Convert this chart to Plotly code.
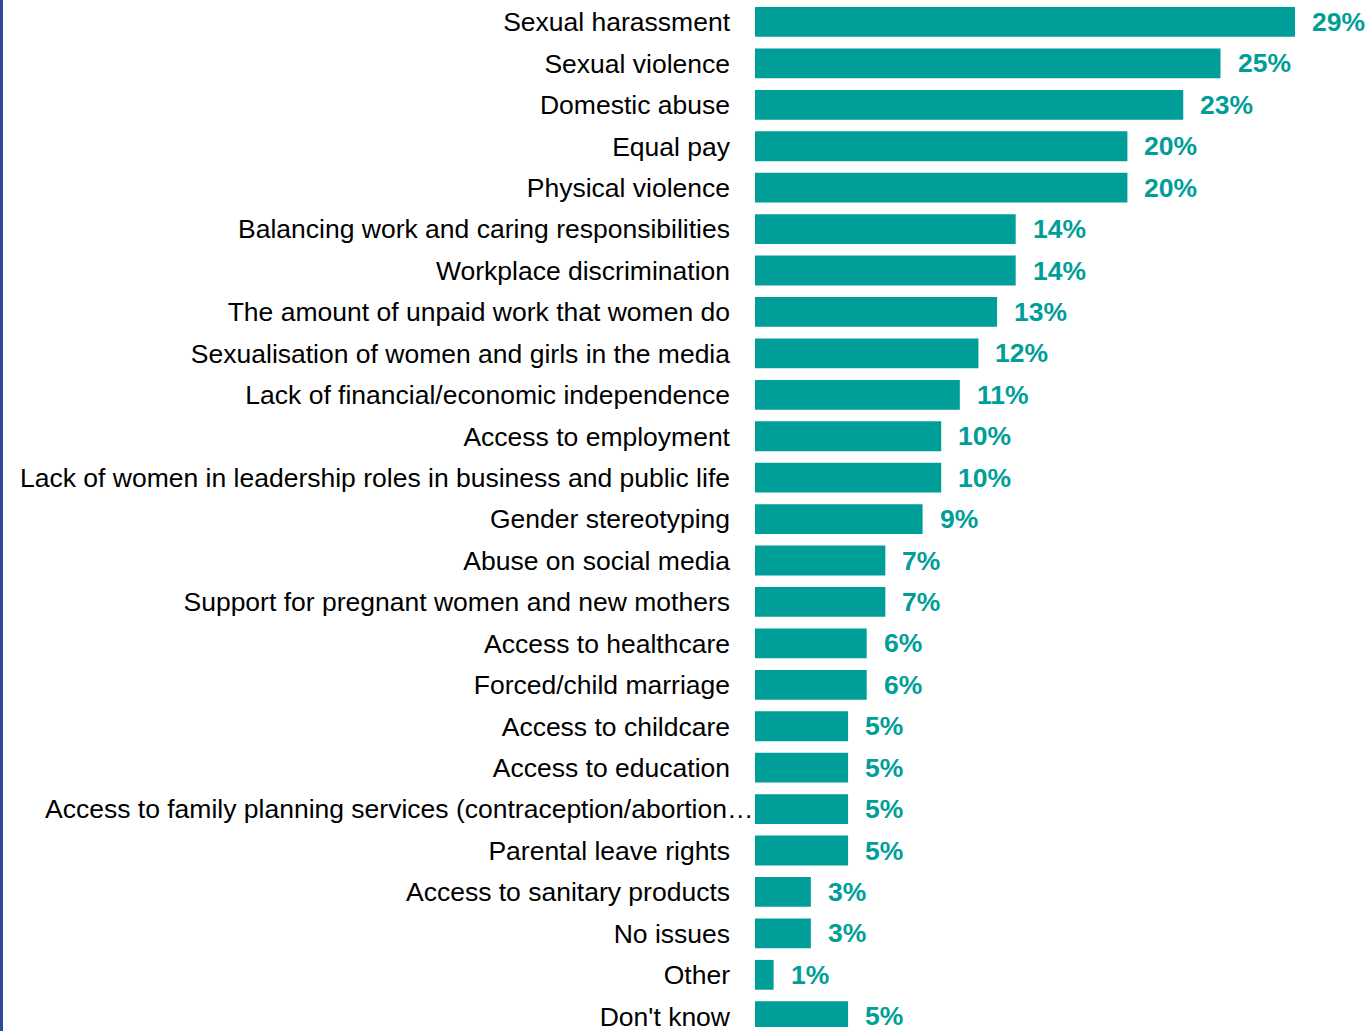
import plotly.graph_objects as go

categories = [
    "Sexual harassment",
    "Sexual violence",
    "Domestic abuse",
    "Equal pay",
    "Physical violence",
    "Balancing work and caring responsibilities",
    "Workplace discrimination",
    "The amount of unpaid work that women do",
    "Sexualisation of women and girls in the media",
    "Lack of financial/economic independence",
    "Access to employment",
    "Lack of women in leadership roles in business and public life",
    "Gender stereotyping",
    "Abuse on social media",
    "Support for pregnant women and new mothers",
    "Access to healthcare",
    "Forced/child marriage",
    "Access to childcare",
    "Access to education",
    "Access to family planning services (contraception/abortion\u2026",
    "Parental leave rights",
    "Access to sanitary products",
    "No issues",
    "Other",
    "Don't know",
]
values = [29, 25, 23, 20, 20, 14, 14, 13, 12, 11, 10, 10, 9, 7, 7, 6, 6, 5, 5, 5, 5, 3, 3, 1, 5]
value_labels = [f"{v}%" for v in values]
# label that overflows up to the bars in the original
overflow_label = "Access to family planning services (contraception/abortion\u2026"

TEAL = "#009E99"
W, H = 1368, 1031
LEFT = 755
FONT = "Liberation Sans, Arial, sans-serif"
FS = 26.5

fig = go.Figure()
fig.add_trace(go.Bar(
    x=values, y=categories, orientation="h",
    marker=dict(color=TEAL, line=dict(width=0)),
    width=0.72,
    hoverinfo="skip",
))

for c, v, t in zip(categories, values, value_labels):
    fig.add_annotation(
        x=v, y=c, text=f"<b>{t}</b>", showarrow=False,
        xanchor="left", yanchor="middle", xshift=15,
        font=dict(family=FONT, size=FS, color=TEAL),
    )

fig.add_annotation(
    x=0, xref="paper", y=overflow_label, text=overflow_label, showarrow=False,
    xanchor="right", yanchor="middle", xshift=0,
    font=dict(family=FONT, size=FS, color="#000000"),
)

# blue rule at left edge of page
plot_w = W - LEFT
fig.add_shape(type="rect", xref="paper", yref="paper",
              x0=-LEFT / plot_w, x1=-(LEFT - 3) / plot_w, y0=-0.05, y1=1.05,
              fillcolor="#2E4A9E", line=dict(width=0), layer="above")

n = len(categories)
tick_text = ["" if c == overflow_label else c for c in categories]

fig.update_layout(
    width=W, height=H,
    margin=dict(l=LEFT, r=0, t=0, b=0, pad=0),
    paper_bgcolor="white", plot_bgcolor="white",
    showlegend=False,
    font=dict(family=FONT, size=FS, color="#000000"),
)
fig.update_xaxes(range=[0, (W - LEFT) / 18.62], visible=False, fixedrange=True)
fig.update_yaxes(
    type="category", categoryorder="array", categoryarray=categories,
    tickmode="array", tickvals=categories, ticktext=tick_text,
    range=[n - 1 + 0.26, -0.53],
    showgrid=False, zeroline=False, showline=False, ticks="",
    ticklabelstandoff=24,
    tickfont=dict(size=FS, color="#000000"),
)

fig.write_html(
    "out.html",
    config={"displayModeBar": False},
    post_script="document.body.style.margin='0';document.body.style.overflow='hidden';",
)
